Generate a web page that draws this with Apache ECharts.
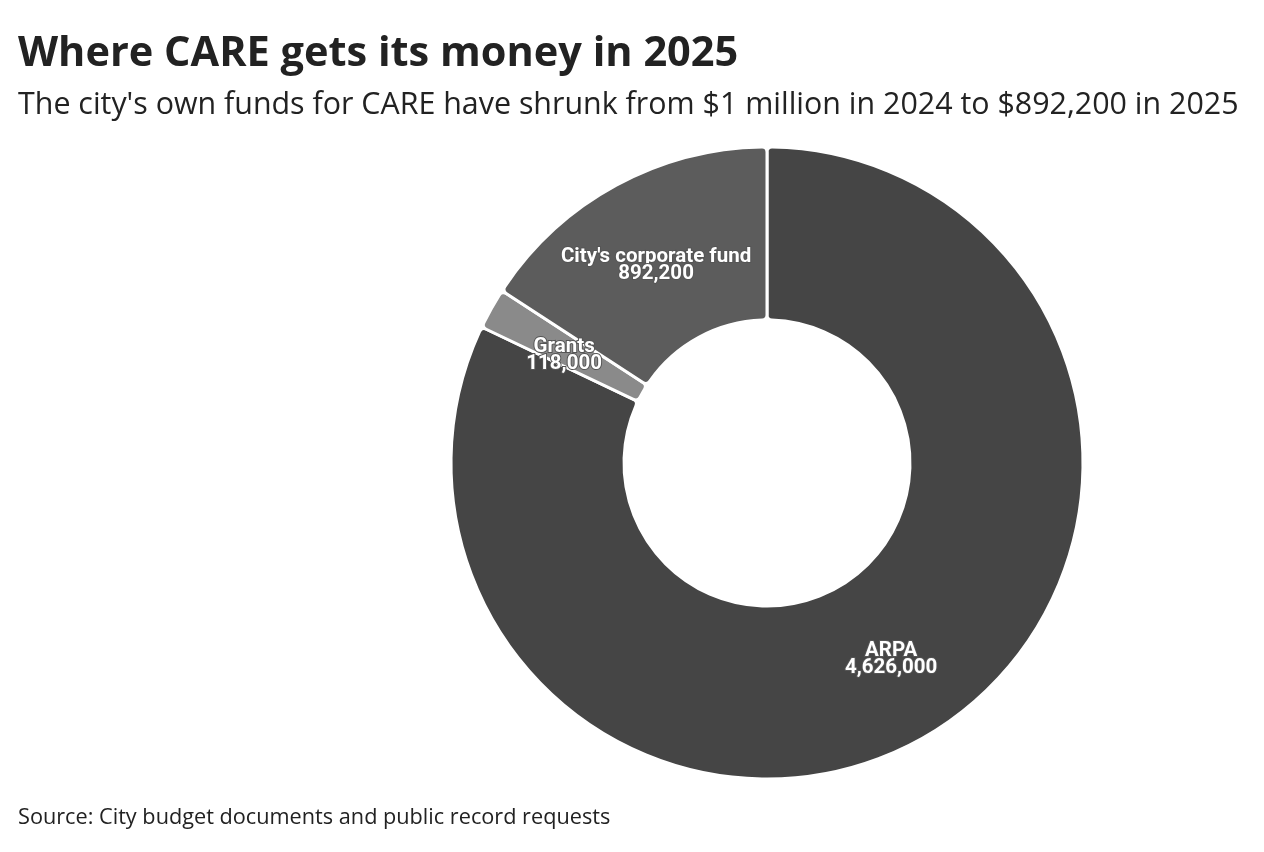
<!DOCTYPE html>
<html>
<head>
<meta charset="utf-8">
<title>Where CARE gets its money in 2025</title>
<script src="https://cdn.jsdelivr.net/npm/echarts@6/dist/echarts.min.js"></script>
<style>
    html, body { margin: 0; padding: 0; background: #fff; }
    #chart { width: 1264px; height: 852px; }
</style>
</head>
<body>
<div id="chart"></div>
<script>
// funding sources, clockwise from 12 o'clock
var sources = ['ARPA', 'Grants', "City's corporate fund"];
var amounts = [4626000, 118000, 892200];
var shades = ['#454545', '#8a8a8a', '#5c5c5c'];

var myChart = echarts.init(document.querySelector('#chart'));

// small nudges so the labels sit where the original put them
var labelNudge = { 'Grants': [0, 6], "City's corporate fund": [0, 7] };

var pieData = sources.map(function (name, i) {
    return {
        name: name,
        value: amounts[i],
        itemStyle: { color: shades[i] },
        label: { offset: labelNudge[name] || [0, 0] }
    };
});

var option = {
    backgroundColor: '#fff',
    animation: false,
    title: [{
        text: 'Where CARE gets its money in 2025',
        left: 18,
        top: 33,
        padding: 0,
        textStyle: {
            fontFamily: 'Open Sans',
            fontSize: 41.5,
            fontWeight: 'bold',
            color: '#222'
        }
    }, {
        text: "The city's own funds for CARE have shrunk from $1 million in 2024 to $892,200 in 2025",
        left: 18,
        top: 90,
        padding: 0,
        textStyle: {
            fontFamily: 'Open Sans',
            fontSize: 30.4,
            fontWeight: 'normal',
            color: '#222'
        }
    }, {
        text: 'Source: City budget documents and public record requests',
        left: 18,
        top: 807,
        padding: 0,
        textStyle: {
            fontFamily: 'Open Sans',
            fontSize: 21.7,
            fontWeight: 'normal',
            color: '#222'
        }
    }],
    series: [{
        type: 'pie',
        center: [767, 463],
        radius: [143, 316],
        startAngle: 90,
        clockwise: true,
        avoidLabelOverlap: false,
        itemStyle: {
            borderColor: '#fff',
            borderWidth: 3,
            borderRadius: 5
        },
        label: {
            show: true,
            position: 'inside',
            color: '#fff',
            fontFamily: 'Roboto',
            fontWeight: 'bold',
            fontSize: 20.5,
            lineHeight: 17,
            textBorderColor: '#555',
            textBorderWidth: 2,
            formatter: function (p) {
                return p.name + '\n' + p.value.toLocaleString('en-US');
            }
        },
        labelLine: { show: false },
        emphasis: { disabled: true },
        data: pieData
    }]
};
myChart.setOption(option);
</script>
</body>
</html>
